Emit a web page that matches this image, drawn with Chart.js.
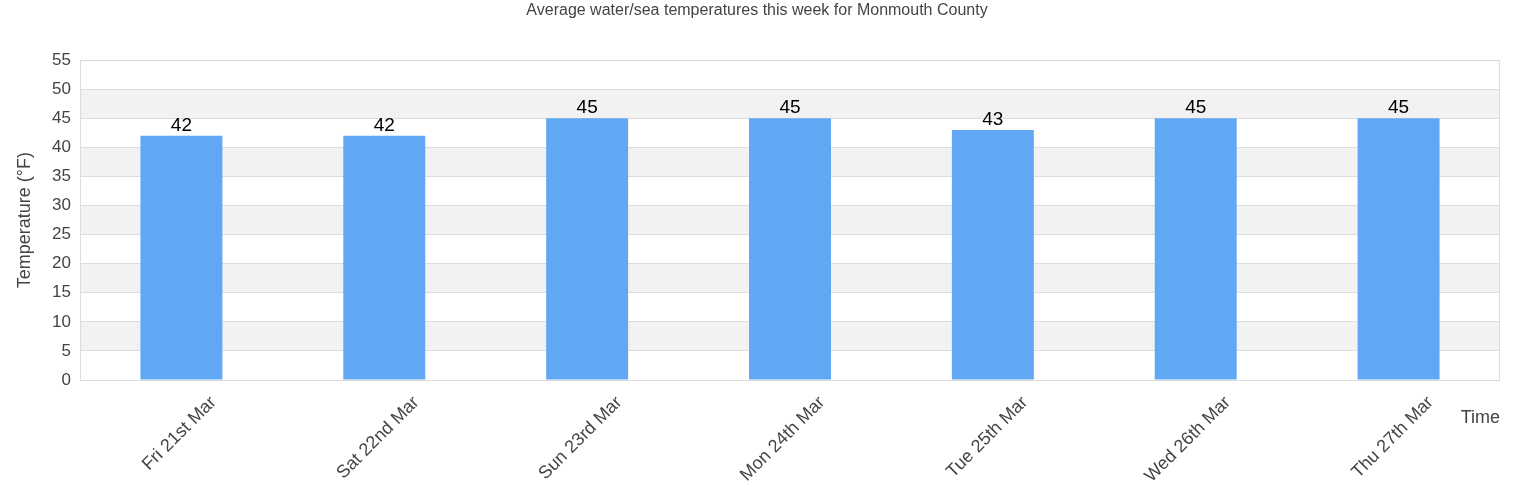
<!DOCTYPE html>
<html lang="en">
    <head>
        <meta charset="UTF-8" />
        <title>Average water/sea temperatures this week for Monmouth County</title>
        <style>
            body {
                margin: 0;
                background: #fff;
            }
            #wrap {
                width: 1540px;
                height: 500px;
            }
        </style>
    </head>
    <body>
        <div id="wrap">
            <canvas id="tempChart" width="1540" height="500"></canvas>
        </div>

        <script src="https://cdn.jsdelivr.net/npm/chart.js"></script>
        <script>
            // chart data
            const days = [
                "Fri 21st Mar",
                "Sat 22nd Mar",
                "Sun 23rd Mar",
                "Mon 24th Mar",
                "Tue 25th Mar",
                "Wed 26th Mar",
                "Thu 27th Mar",
            ]
            const temps = [42, 42, 45, 45, 43, 45, 45]
            const yTicks = [0, 5, 10, 15, 20, 25, 30, 35, 40, 45, 50, 55]

            const FONT = "'Liberation Sans', Arial, sans-serif"

            // grey bands + frame + value labels + "Time" label
            const decor = {
                id: "decor",
                beforeDraw(chart) {
                    const { ctx, chartArea: a, scales } = chart
                    const y = scales.y
                    ctx.save()
                    ctx.fillStyle = "#f2f2f2"
                    for (let i = 1; i < yTicks.length - 1; i += 2) {
                        const top = y.getPixelForValue(yTicks[i + 1])
                        const bot = y.getPixelForValue(yTicks[i])
                        ctx.fillRect(a.left, top, a.right - a.left, bot - top)
                    }
                    ctx.restore()
                },
                afterDraw(chart) {
                    const { ctx, chartArea: a } = chart
                    ctx.save()
                    ctx.strokeStyle = "#dddddd"
                    ctx.lineWidth = 1
                    ctx.strokeRect(a.left + 0.5, a.top + 0.5, a.right - a.left - 1, a.bottom - a.top)

                    // values above bars
                    const meta = chart.getDatasetMeta(0)
                    ctx.fillStyle = "#000"
                    ctx.font = "19px " + FONT
                    ctx.textAlign = "center"
                    ctx.textBaseline = "bottom"
                    meta.data.forEach((bar, i) => {
                        ctx.fillText(String(temps[i]), bar.x, bar.y - 1)
                    })

                    // axis title for x, at the right end
                    ctx.fillStyle = "#444"
                    ctx.textAlign = "right"
                    ctx.textBaseline = "middle"
                    ctx.font = "18px " + FONT
                    ctx.fillText("Time", a.right, 418)
                    ctx.restore()
                },
            }

            new Chart(document.getElementById("tempChart"), {
                type: "bar",
                data: {
                    labels: days,
                    datasets: [
                        {
                            data: temps,
                            backgroundColor: "#60a8f4",
                            barPercentage: 0.404,
                            categoryPercentage: 1,
                        },
                    ],
                },
                options: {
                    responsive: false,
                    animation: false,
                    layout: { padding: { left: 14, right: 40 } },
                    plugins: {
                        legend: { display: false },
                        tooltip: { enabled: false },
                        title: {
                            display: true,
                            text: "Average water/sea temperatures this week for Monmouth County",
                            color: "#444",
                            font: { family: FONT, size: 16, weight: "normal" },
                            padding: { top: 1, bottom: 40 },
                        },
                    },
                    scales: {
                        y: {
                            min: 0,
                            max: 55,
                            afterFit(scale) {
                                scale.width = 66
                            },
                            ticks: {
                                stepSize: 5,
                                color: "#444",
                                padding: 9,
                                font: { family: FONT, size: 17 },
                            },
                            grid: { color: "#dddddd", drawTicks: false },
                            border: { display: false },
                            title: {
                                display: true,
                                text: "Temperature (°F)",
                                color: "#444",
                                font: { family: FONT, size: 18 },
                                padding: { top: 0, bottom: 2 },
                            },
                        },
                        x: {
                            afterFit(scale) {
                                scale.height = 120
                            },
                            grid: { display: false, drawTicks: false },
                            border: { display: false },
                            ticks: {
                                color: "#444",
                                maxRotation: 45,
                                minRotation: 45,
                                labelOffset: 32,
                                padding: 12,
                                font: { family: FONT, size: 18 },
                            },
                        },
                    },
                },
                plugins: [decor],
            })
        </script>
    </body>
</html>
